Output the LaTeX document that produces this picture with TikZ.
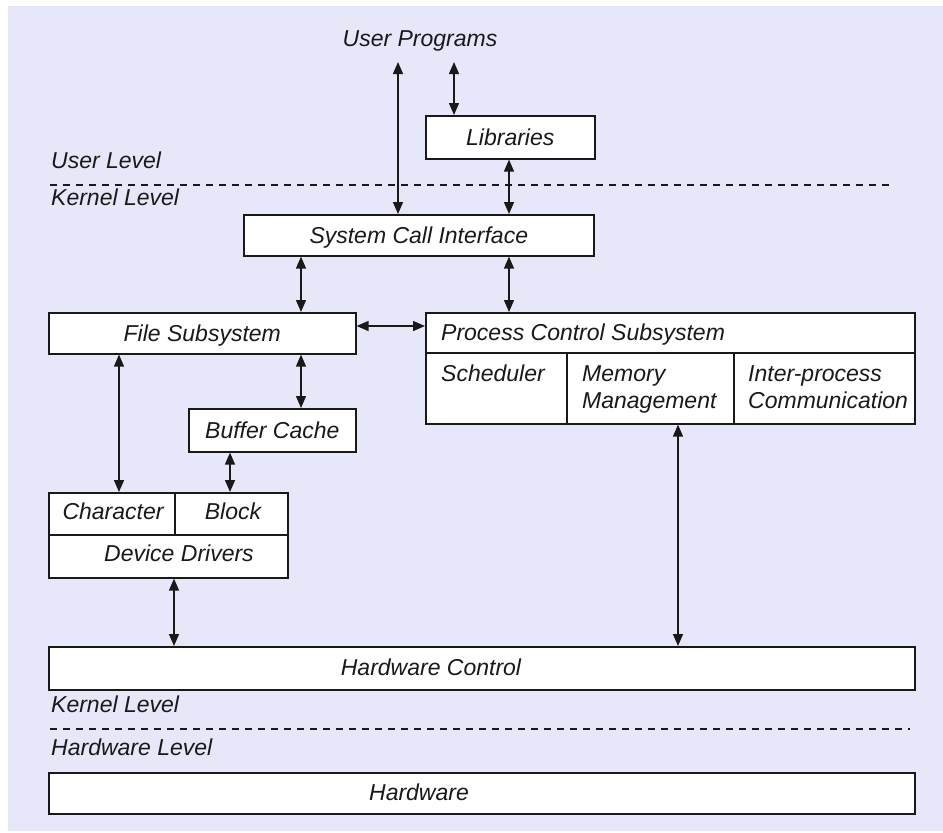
\documentclass[tikz,border=0pt]{standalone}
\usepackage{fontspec}
\setmainfont{Liberation Sans}
\usetikzlibrary{arrows.meta}
\definecolor{bgc}{RGB}{231,231,250}
\definecolor{ink}{RGB}{25,25,25}
\begin{document}
\begin{tikzpicture}[x=1pt,y=-1pt,
  txt/.style={font=\itshape\fontsize{23}{27}\selectfont, text=ink, inner sep=0pt},
  box/.style={draw=ink, fill=white, line width=1.6pt, inner sep=0pt, anchor=north west,
    font=\itshape\fontsize{23}{27}\selectfont, text=ink, text height=16pt, text depth=0pt},
  arr/.style={line width=1.4pt, draw=ink, {Triangle[length=12pt,width=10pt]}-{Triangle[length=12pt,width=10pt]}},
  lvl/.style={draw=ink, line width=1.2pt, dash pattern=on 7pt off 6pt},
  sep/.style={draw=ink, line width=1.6pt}]
\useasboundingbox (0,0) rectangle (943,833);
\fill[white] (0,0) rectangle (943,833);
\fill[bgc] (8,6) rectangle (943,831);

% boxes
\node[box, minimum width=169pt, minimum height=43pt] (lib) at (425,115) {Libraries};
\node[box, minimum width=350pt, minimum height=41pt] (sci) at (243,214) {System Call Interface};
\node[box, minimum width=307pt, minimum height=41pt] (fs) at (48,312) {File Subsystem};
\node[box, minimum width=489pt, minimum height=111pt] (pcs) at (425,312) {};
\node[box, minimum width=167pt, minimum height=43pt] (bc) at (188,408) {Buffer Cache};
\node[box, minimum width=239pt, minimum height=85pt] (dd) at (48,492) {};
\node[box, minimum width=866pt, minimum height=43pt] (hc) at (48,646) {};
\node[box, minimum width=866pt, minimum height=41pt] (hw) at (48,772) {};

% inner separators
\draw[sep] (pcs.west |- 0,353) -- (pcs.east |- 0,353);
\draw[sep] (567,0 |- pcs.south) -- (567,353);
\draw[sep] (734,0 |- pcs.south) -- (734,353);
\draw[sep] (dd.west |- 0,535) -- (dd.east |- 0,535);
\draw[sep] (175,0 |- dd.north) -- (175,535);

% texts
\node[txt, anchor=base] (up) at (420,46) {User Programs};
\node[txt, anchor=base west] (ul) at (51,168) {User Level};
\node[txt, anchor=base west] (kl1) at (51,205) {Kernel Level};
\node[txt, anchor=base west] (pcst) at (441,340) {Process Control Subsystem};
\node[txt, anchor=base west] (sch) at (441,381) {Scheduler};
\node[txt, anchor=base west] (mm1) at (582,381) {Memory};
\node[txt, anchor=base west] (mm2) at (582,408) {Management};
\node[txt, anchor=base west] (ipc1) at (748,381) {Inter-process};
\node[txt, anchor=base west] (ipc2) at (748,408) {Communication};
\node[txt, anchor=base] (chr) at (113,519) {Character};
\node[txt, anchor=base] (blk) at (233,519) {Block};
\node[txt, anchor=base] (ddt) at (179,561) {Device Drivers};
\node[txt, anchor=base] (hct) at (431,675) {Hardware Control};
\node[txt, anchor=base west] (kl2) at (51,712) {Kernel Level};
\node[txt, anchor=base west] (hl) at (51,755) {Hardware Level};
\node[txt, anchor=base] (hwt) at (419,800) {Hardware};

% level separators
\coordinate (d1a) at (50,185);
\coordinate (d1b) at (893,185);
\coordinate (d2a) at (50,729);
\coordinate (d2b) at (910,729);
\draw[lvl] (d1a) -- (d1b);
\draw[lvl] (d2a) -- (d2b);

% connectors
\coordinate (up1) at (398,62);
\coordinate (up2) at (454,62);
\draw[arr] (up1) -- (up1 |- sci.north);
\draw[arr] (up2) -- (up2 |- lib.north);
\draw[arr] (509,0 |- lib.south) -- (509,0 |- sci.north);
\draw[arr] (301,0 |- sci.south) -- (301,0 |- fs.north);
\draw[arr] (509,0 |- sci.south) -- (509,0 |- pcs.north);
\draw[arr] (fs.east |- 0,326) -- (pcs.west |- 0,326);
\draw[arr] (119,0 |- fs.south) -- (119,0 |- dd.north);
\draw[arr] (301,0 |- fs.south) -- (301,0 |- bc.north);
\draw[arr] (230,0 |- bc.south) -- (230,0 |- dd.north);
\draw[arr] (174,0 |- dd.south) -- (174,0 |- hc.north);
\draw[arr] (678,0 |- pcs.south) -- (678,0 |- hc.north);
\end{tikzpicture}
\end{document}
